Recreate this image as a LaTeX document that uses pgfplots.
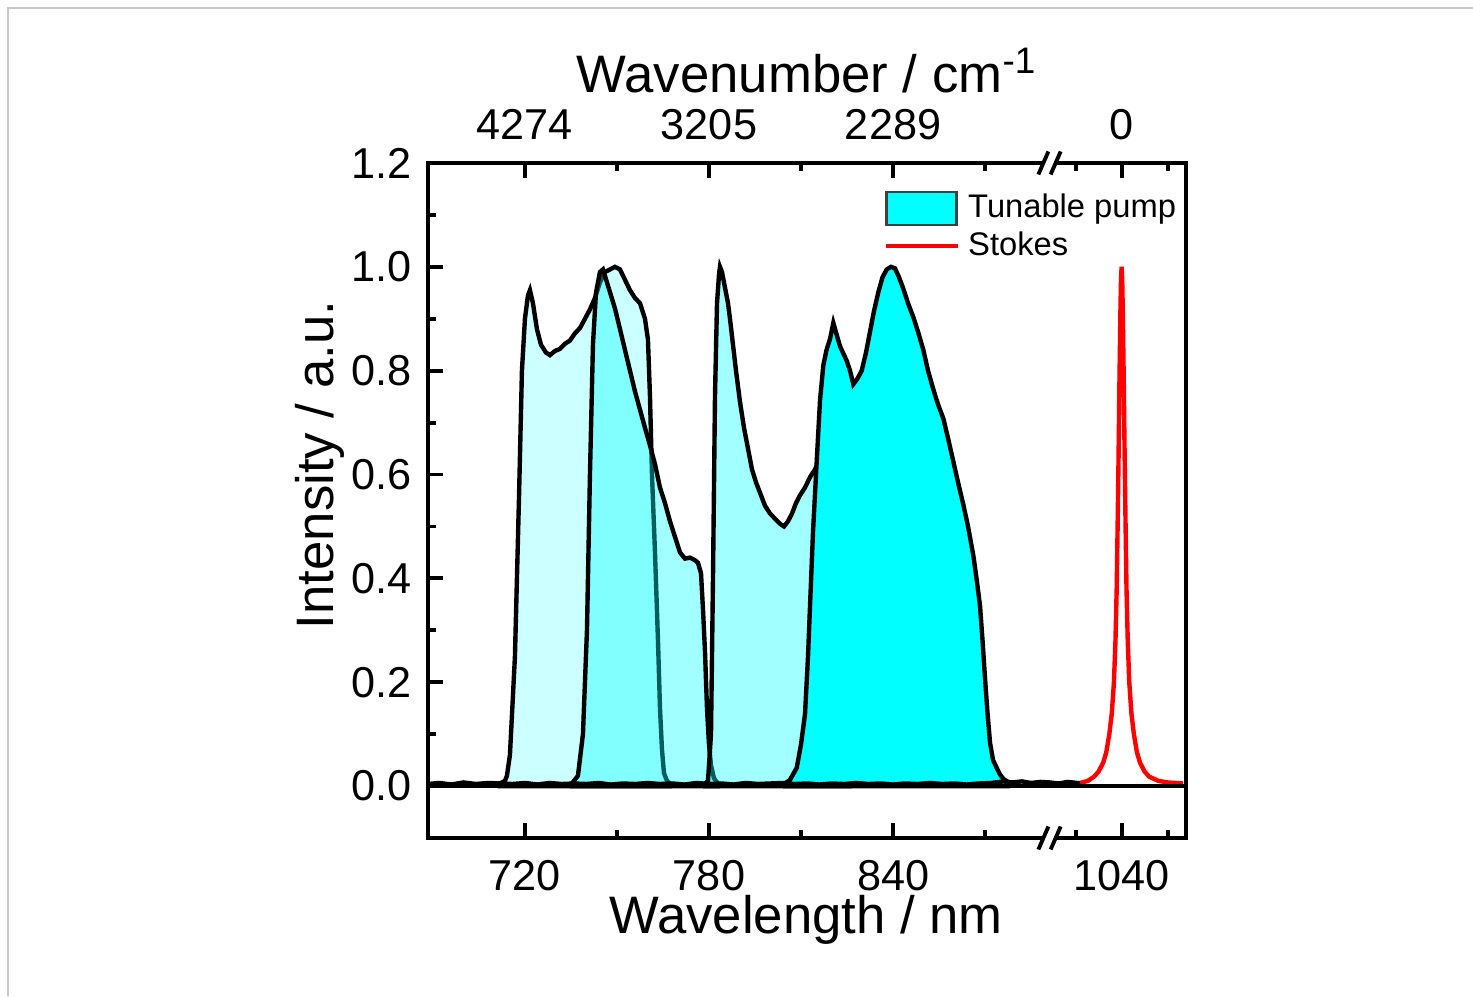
\documentclass[border=0pt]{standalone}
\usepackage{fontspec}
\setmainfont{Liberation Sans}
\usepackage{pgfplots}
\pgfplotsset{compat=1.18}
\definecolor{cyanfill}{RGB}{0,255,255}
\begin{document}
\begin{tikzpicture}[x=1cm,y=1cm]
\useasboundingbox (0,0) rectangle (14.73,9.96);
\draw[black!22, line width=0.5pt] (0.08,0) -- (0.08,9.88) -- (14.73,9.88);
\begin{axis}[
  at={(4.28cm,1.58cm)}, anchor=south west,
  scale only axis, width=7.58cm, height=6.75cm,
  xmin=688.4, xmax=935.5, ymin=-0.1, ymax=1.2,
  clip mode=individual,
  axis line style={line width=1.1pt},
  xtick={720,780,840,914.5}, xticklabels={720,780,840,1040},
  minor xtick={750,810,870,899.5,929.5},
  ytick={0,0.2,0.4,0.6,0.8,1.0,1.2},
  yticklabels={0.0,0.2,0.4,0.6,0.8,1.0,1.2},
  minor ytick={0.1,0.3,0.5,0.7,0.9,1.1},
  xtick pos=bottom, ytick pos=left,
  tick align=inside,
  major tick length=0.15cm, minor tick length=0.08cm,
  major tick style={black, line width=1.1pt},
  minor tick style={black, line width=1.1pt},
  tick label style={font=\fontsize{12.3pt}{14pt}\selectfont},
  xticklabel style={anchor=base, inner sep=0pt, yshift=-0.52cm},
  yticklabel style={anchor=east, inner sep=0pt, xshift=-0.16cm},
  xlabel={Wavelength / nm}, ylabel={Intensity / a.u.},
  label style={font=\fontsize{15pt}{18pt}\selectfont, inner sep=0pt},
  xlabel style={at={(axis description cs:0.4987,-0.141)}, anchor=base},
  ylabel style={at={(axis description cs:-0.1425,0.5526)}, anchor=center},
  legend style={at={(axis description cs:0.6016,0.966)}, anchor=north west,
    draw=none, fill=none, inner sep=0pt, outer sep=0pt,
    font=\fontsize{9.3pt}{11pt}\selectfont, row sep=-0.07cm,
    nodes={inner sep=0.08cm}},
  legend cell align=left,
]
% Spectrum A
\addplot[draw=black, line width=1.25pt, fill=cyanfill, fill opacity=0.2, forget plot] coordinates {
(711.85,0.005) (713.48,0.01) (714.13,0.02) (715.11,0.06) (716.74,0.25) (718.04,0.55) (719.02,0.8) (720.0,0.9) (720.98,0.945) (721.63,0.955) (722.61,0.93) (723.91,0.88) (725.22,0.85) (726.85,0.835) (728.15,0.83) (729.78,0.838) (731.41,0.842) (733.04,0.852) (734.67,0.858) (736.30,0.872) (737.93,0.882) (739.56,0.90) (741.19,0.918) (742.82,0.94) (744.45,0.97) (746.08,0.99) (747.71,0.995) (749.34,1.0) (750.98,0.995) (752.61,0.975) (754.24,0.955) (755.87,0.94) (757.50,0.93) (759.13,0.90) (760.10,0.86) (760.76,0.75) (761.41,0.6) (762.39,0.45) (763.37,0.28) (764.02,0.15) (764.67,0.07) (765.32,0.025) (766.30,0.01) (767.28,0.005)
} \closedcycle;
% Spectrum B
\addplot[draw=black, line width=1.25pt, fill=cyanfill, fill opacity=0.37, forget plot] coordinates {
(735.32,0.005) (737.28,0.02) (738.91,0.1) (740.22,0.3) (741.19,0.6) (742.17,0.85) (743.15,0.95) (744.45,0.99) (745.43,0.995) (746.74,0.97) (749.34,0.92) (750.98,0.88) (752.61,0.84) (754.24,0.80) (755.87,0.76) (757.50,0.725) (759.13,0.69) (760.76,0.656) (762.39,0.62) (764.02,0.575) (765.65,0.545) (767.28,0.51) (768.91,0.48) (770.54,0.45) (772.17,0.438) (773.80,0.44) (775.43,0.435) (776.41,0.43) (777.39,0.41) (778.04,0.34) (778.69,0.26) (779.34,0.15) (780.00,0.08) (780.65,0.04) (781.62,0.015) (782.93,0.005)
} \closedcycle;
% Spectrum C
\addplot[draw=black, line width=1.25pt, fill=cyanfill, fill opacity=0.37, forget plot] coordinates {
(778.69,0.005) (779.67,0.01) (780.65,0.1) (781.30,0.4) (781.95,0.75) (782.61,0.93) (783.26,0.985) (783.58,1.0) (784.23,0.99) (785.21,0.96) (786.19,0.93) (786.84,0.90) (787.82,0.85) (788.80,0.80) (790.10,0.74) (791.41,0.69) (792.71,0.65) (794.01,0.61) (795.32,0.585) (796.62,0.565) (798.25,0.54) (799.88,0.525) (801.51,0.515) (803.14,0.505) (804.45,0.50) (805.75,0.51) (807.06,0.525) (808.36,0.545) (809.67,0.56) (811.30,0.575) (812.93,0.595) (814.56,0.61) (816.19,0.63) (817.82,0.64) (819.45,0.6) (822.71,0.3) (824.34,0.05) (825.97,0.005)
} \closedcycle;
% Spectrum D
\addplot[draw=black, line width=1.25pt, fill=cyanfill, forget plot] coordinates {
(804.77,0.005) (806.40,0.012) (808.59,0.035) (809.99,0.08) (811.30,0.139) (812.28,0.25) (812.93,0.347) (813.91,0.49) (815.11,0.625) (816.19,0.743) (817.26,0.81) (818.31,0.84) (819.45,0.861) (820.53,0.892) (821.58,0.87) (822.71,0.847) (824.89,0.819) (825.97,0.80) (827.04,0.774) (828.41,0.785) (829.78,0.80) (831.18,0.835) (832.49,0.875) (833.79,0.915) (835.19,0.951) (836.56,0.98) (837.93,0.995) (839.34,1.0) (840.64,0.997) (841.94,0.98) (843.34,0.958) (844.88,0.93) (846.61,0.903) (848.14,0.875) (849.87,0.840) (851.40,0.80) (853.13,0.764) (854.66,0.735) (856.39,0.708) (857.92,0.67) (859.65,0.625) (861.18,0.585) (862.91,0.542) (864.44,0.50) (866.17,0.444) (867.21,0.40) (868.35,0.347) (869.17,0.28) (869.98,0.208) (870.80,0.14) (871.62,0.083) (872.59,0.05) (873.80,0.035) (874.88,0.022) (875.96,0.014) (877.48,0.008)
} \closedcycle;
% baseline noise
\addplot[black, line width=1.25pt, forget plot] coordinates {
(688.4,0.004) (692,0.006) (696,0.003) (700,0.007) (704,0.004) (708,0.006) (712,0.005) (716,0.004) (720,0.006) (724,0.003) (728,0.006) (732,0.004) (736,0.005) (740,0.004) (744,0.006) (748,0.003) (752,0.005) (756,0.004) (760,0.006) (764,0.004) (768,0.005) (772,0.003) (776,0.006) (780,0.004) (784,0.005) (788,0.003) (792,0.006) (796,0.004) (800,0.005) (804,0.006) (808,0.004) (812,0.005) (816,0.003) (820,0.005) (824,0.004) (828,0.006) (832,0.004) (836,0.005) (840,0.003) (844,0.005) (848,0.004) (852,0.006) (856,0.004) (860,0.005) (864,0.003) (868,0.005) (872,0.006) (876,0.009) (879,0.007) (882,0.009) (885,0.006) (888,0.008) (891,0.007) (894,0.005) (897,0.008) (900,0.006) (901.9,0.005)
};
% Stokes (real wavelength, shifted onto the broken axis)
\addplot[red, line width=1.25pt, forget plot] table[x expr=\thisrowno{0}-125.5, y index=1] {
1026.5 0.006
1029 0.010
1031 0.018
1032.5 0.028
1034 0.045
1035 0.065
1036 0.10
1036.8 0.14
1037.5 0.20
1038 0.28
1038.4 0.38
1038.7 0.50
1039.0 0.63
1039.3 0.78
1039.6 0.91
1039.8 0.975
1040.0 1.0
1040.2 0.975
1040.4 0.91
1040.7 0.78
1041.0 0.63
1041.3 0.50
1041.6 0.38
1042.0 0.28
1042.5 0.20
1043.2 0.14
1044 0.10
1045 0.065
1046 0.045
1047.5 0.028
1049 0.018
1052 0.010
1055 0.007
1060 0.005
};
% zero line
\draw[black, line width=1.2pt] (axis cs:688.4,0) -- (axis cs:935.5,0);
% bottom axis break
\draw[white, line width=2.5pt] (axis cs:889.2,-0.1) -- (axis cs:892.6,-0.1);
\draw[black, line width=1.1pt] ([xshift=-0.05cm,yshift=-0.115cm]axis cs:889,-0.1) -- ([xshift=0.05cm,yshift=0.115cm]axis cs:889,-0.1);
\draw[black, line width=1.1pt] ([xshift=-0.05cm,yshift=-0.115cm]axis cs:893,-0.1) -- ([xshift=0.05cm,yshift=0.115cm]axis cs:893,-0.1);
% legend
\addlegendimage{legend image code/.code={\draw[fill=cyanfill, draw=black!75, line width=0.8pt] (0cm,-0.165cm) rectangle (0.7cm,0.165cm);}}
\addlegendentry{Tunable pump}
\addlegendimage{legend image code/.code={\draw[red, line width=1.2pt] (0cm,0cm) -- (0.72cm,0cm);}}
\addlegendentry{Stokes}
\end{axis}
\begin{axis}[
  at={(4.28cm,1.58cm)}, anchor=south west,
  scale only axis, width=7.58cm, height=6.75cm,
  xmin=688.4, xmax=935.5, ymin=-0.1, ymax=1.2,
  clip mode=individual,
  axis x line*=top, axis y line=none,
  axis line style={line width=1.1pt},
  xtick={720,780,840,914.5}, xticklabels={4274,3205,2289,0},
  minor xtick={750,810,870,899.5,929.5},
  ytick=\empty,
  tick align=inside,
  major tick length=0.15cm, minor tick length=0.08cm,
  major tick style={black, line width=1.1pt},
  minor tick style={black, line width=1.1pt},
  tick label style={font=\fontsize{12.3pt}{14pt}\selectfont},
  xticklabel style={anchor=base, inner sep=0pt, yshift=0.23cm},
  xlabel={Wavenumber / cm\textsuperscript{-1}},
  label style={font=\fontsize{15pt}{18pt}\selectfont, inner sep=0pt},
  xlabel style={at={(axis description cs:0.5,1.105)}, anchor=base},
]
\draw[white, line width=2.5pt] (axis cs:889.2,1.2) -- (axis cs:892.6,1.2);
\draw[black, line width=1.1pt] ([xshift=-0.05cm,yshift=-0.115cm]axis cs:889,1.2) -- ([xshift=0.05cm,yshift=0.115cm]axis cs:889,1.2);
\draw[black, line width=1.1pt] ([xshift=-0.05cm,yshift=-0.115cm]axis cs:893,1.2) -- ([xshift=0.05cm,yshift=0.115cm]axis cs:893,1.2);
\end{axis}
\end{tikzpicture}
\end{document}
